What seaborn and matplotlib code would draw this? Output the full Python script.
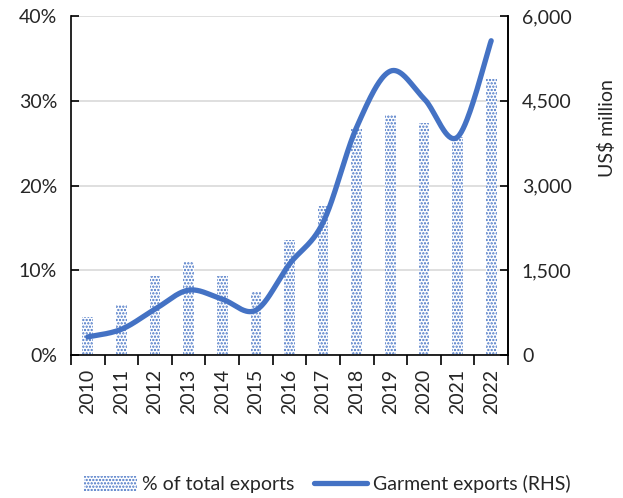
import numpy as np
import pandas as pd
import matplotlib
matplotlib.use("Agg")
import matplotlib.pyplot as plt
import seaborn as sns
from matplotlib.ticker import FuncFormatter, FixedLocator
from matplotlib.patches import Patch
from matplotlib.lines import Line2D

years = ["2010", "2011", "2012", "2013", "2014", "2015", "2016",
         "2017", "2018", "2019", "2020", "2021", "2022"]
share_pct = [4.5, 5.9, 9.3, 11.0, 9.3, 7.4, 13.6, 17.6, 26.7, 28.3, 27.4, 25.7, 32.6]
garment_musd = [320, 455, 811, 1148, 988, 793, 1610, 2348, 4035, 5024, 4539, 3858, 5562]

BLUE = "#4472C4"
FONT = "Lato"
FS = 14

sns.set_theme(style="white")
plt.rcParams["font.family"] = [FONT, "DejaVu Sans"]
plt.rcParams["hatch.linewidth"] = 1.1

fig = plt.figure(figsize=(6.23, 4.98), dpi=100)
ax = fig.add_axes([71 / 623, 1 - 355 / 498, (508 - 71) / 623, (355 - 16) / 498])

df = pd.DataFrame({"year": years, "share": share_pct, "garment": garment_musd})

sns.barplot(data=df, x="year", y="share", ax=ax, color="white", width=0.32,
            saturation=1, zorder=2)
for p in ax.patches:
    p.set_facecolor("white")
    p.set_edgecolor(BLUE)
    p.set_linewidth(0)
    p.set_hatch(".....")

ax.set_ylim(0, 40)
ax.set_xlim(-0.5, len(years) - 0.5)
ax.set_yticks([0, 10, 20, 30, 40])
ax.yaxis.set_major_formatter(FuncFormatter(lambda v, _: f"{v:.0f}%"))
ax.yaxis.grid(True, color="#D9D9D9", lw=1.2, zorder=0)
ax.set_axisbelow(True)
ax.set_xlabel("")
ax.set_ylabel("")

for s in ["left", "bottom", "right"]:
    ax.spines[s].set_visible(True)
    ax.spines[s].set_color("black")
    ax.spines[s].set_linewidth(1.2)
ax.spines["top"].set_visible(False)

ax.tick_params(axis="y", which="major", direction="in", length=6, width=1.2,
               color="black", labelsize=FS, pad=10, left=True)
ax.tick_params(axis="x", which="major", length=0, labelsize=FS, pad=10,
               labelrotation=90)
ax.xaxis.set_minor_locator(FixedLocator(np.arange(-0.5, len(years), 1.0)))
ax.tick_params(axis="x", which="minor", direction="out", length=7, width=1.2,
               color="black", bottom=True)

# smoothed line (Excel-style smoothing through the data points)
ax2 = ax.twinx()
xs = np.arange(len(years), dtype=float)
ys = np.array(garment_musd, dtype=float)
px = np.concatenate([[xs[0]], xs, [xs[-1]]])
py = np.concatenate([[ys[0]], ys, [ys[-1]]])
cx, cy = [], []
t = np.linspace(0, 1, 40)
for i in range(len(xs) - 1):
    p0 = np.array([px[i], py[i]])
    p1 = np.array([px[i + 1], py[i + 1]])
    p2 = np.array([px[i + 2], py[i + 2]])
    p3 = np.array([px[i + 3], py[i + 3]])
    c1 = p1 + (p2 - p0) / 6
    c2 = p2 - (p3 - p1) / 6
    b = ((1 - t) ** 3)[:, None] * p1 + (3 * (1 - t) ** 2 * t)[:, None] * c1 \
        + (3 * (1 - t) * t ** 2)[:, None] * c2 + (t ** 3)[:, None] * p2
    cx.extend(b[:, 0]); cy.extend(b[:, 1])
sns.lineplot(x=cx, y=cy, ax=ax2, color=BLUE, lw=3.8, sort=False, zorder=3,
             solid_capstyle="round", estimator=None)
ax2.set_ylim(0, 6000)
ax2.set_yticks([0, 1500, 3000, 4500, 6000])
ax2.yaxis.set_major_formatter(FuncFormatter(lambda v, _: f"{v:,.0f}"))
ax2.tick_params(axis="y", direction="in", length=6, width=1.2, color="black",
                labelsize=FS, pad=10, right=True)
ax2.grid(False)
for s in ["top", "left", "bottom"]:
    ax2.spines[s].set_visible(False)
ax2.spines["right"].set_color("black")
ax2.spines["right"].set_linewidth(1.2)
ax2.set_ylabel("")

fig.text(607 / 623, 1 - 128 / 498, "US$ million", rotation=90, ha="center",
         va="center", fontsize=FS)

handles = [Patch(facecolor="white", edgecolor=BLUE, linewidth=0, hatch="....."),
           Line2D([0], [0], color=BLUE, lw=3.8)]
fig.legend(handles, ["% of total exports", "Garment exports (RHS)"], ncol=2,
           loc="center", bbox_to_anchor=(0.525, 0.028), frameon=False,
           fontsize=FS, handlelength=2.7, handleheight=0.8, columnspacing=1.0,
           handletextpad=0.3)

fig.savefig("out.png", dpi=100)
